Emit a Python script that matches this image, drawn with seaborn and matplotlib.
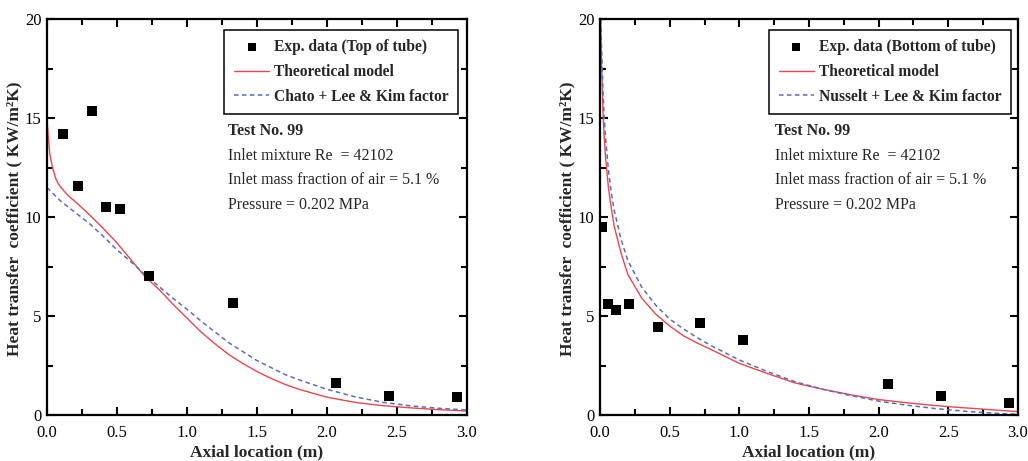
import numpy as np
import pandas as pd
import matplotlib
matplotlib.use("Agg")
import matplotlib.pyplot as plt
import seaborn as sns

# ---- Top of tube (left panel) ----
top_exp_x = [0.116, 0.219, 0.321, 0.421, 0.524, 0.726, 1.331, 2.064, 2.443, 2.926]
top_exp_y = [14.2, 11.6, 15.35, 10.5, 10.4, 7.05, 5.65, 1.6, 0.98, 0.92]

top_model_x = [0.0, 0.01, 0.02, 0.04, 0.06, 0.08, 0.10, 0.15, 0.20, 0.30, 0.40, 0.50,
               0.60, 0.70, 0.80, 0.90, 1.00, 1.10, 1.20, 1.30, 1.40, 1.50, 1.60, 1.70,
               1.80, 2.00, 2.20, 2.40, 2.60, 2.80, 3.00]
top_model_y = [15.0, 14.0, 13.2, 12.5, 12.0, 11.7, 11.5, 11.1, 10.8, 10.15, 9.45, 8.7,
               7.85, 7.0, 6.35, 5.6, 4.9, 4.2, 3.6, 3.05, 2.6, 2.2, 1.85, 1.55,
               1.3, 0.9, 0.64, 0.47, 0.36, 0.27, 0.2]

top_chato_x = [0.0, 0.10, 0.20, 0.30, 0.40, 0.50, 0.60, 0.70, 0.80, 0.90, 1.00, 1.10,
               1.20, 1.30, 1.40, 1.50, 1.60, 1.70, 1.80, 2.00, 2.20, 2.40, 2.60, 2.80, 3.00]
top_chato_y = [11.5, 10.8, 10.25, 9.7, 9.05, 8.35, 7.75, 7.1, 6.5, 5.9, 5.35, 4.75,
               4.2, 3.65, 3.2, 2.75, 2.4, 2.05, 1.78, 1.3, 0.92, 0.64, 0.46, 0.34, 0.25]

# ---- Bottom of tube (right panel) ----
bot_exp_x = [0.012, 0.06, 0.112, 0.21, 0.416, 0.72, 1.024, 2.067, 2.45, 2.934]
bot_exp_y = [9.52, 5.61, 5.31, 5.61, 4.47, 4.64, 3.79, 1.55, 0.98, 0.59]

bot_model_x = [0.005, 0.01, 0.02, 0.03, 0.04, 0.06, 0.08, 0.10, 0.15, 0.20, 0.30, 0.40,
               0.50, 0.60, 0.70, 0.80, 1.00, 1.20, 1.40, 1.60, 1.80, 2.00, 2.20, 2.40,
               2.60, 2.80, 3.00]
bot_model_y = [20.0, 18.0, 15.5, 14.0, 13.0, 11.5, 10.5, 9.6, 8.2, 7.1, 5.9, 5.1,
               4.5, 4.0, 3.63, 3.3, 2.61, 2.1, 1.62, 1.3, 1.02, 0.78, 0.62, 0.48,
               0.37, 0.27, 0.17]

bot_nusselt_x = [0.005, 0.01, 0.02, 0.03, 0.04, 0.06, 0.08, 0.10, 0.15, 0.20, 0.30, 0.40,
                 0.50, 0.60, 0.70, 0.80, 1.00, 1.20, 1.40, 1.60, 1.80, 2.00, 2.20, 2.40,
                 2.60, 2.80, 3.00]
bot_nusselt_y = [20.0, 18.8, 16.6, 15.0, 14.0, 12.4, 11.3, 10.4, 8.9, 7.8, 6.45, 5.55,
                 4.85, 4.35, 3.9, 3.5, 2.78, 2.2, 1.68, 1.3, 0.98, 0.7, 0.5, 0.33,
                 0.2, 0.1, 0.04]

info_lines = ["Inlet mixture Re  = 42102",
              "Inlet mass fraction of air = 5.1 %",
              "Pressure = 0.202 MPa"]

sns.set_theme(style="ticks")
plt.rcParams["font.family"] = ["Liberation Serif", "DejaVu Serif"]
plt.rcParams["axes.linewidth"] = 1.6

RED = "#e8474c"
BLUE = "#5b6cc0"

fig = plt.figure(figsize=(10.28, 4.61), dpi=100)
ax_l = fig.add_axes([0.0457, 0.0998, 0.4085, 0.858])
ax_r = fig.add_axes([0.5837, 0.0998, 0.4065, 0.858])

panels = [
    (ax_l, top_exp_x, top_exp_y, top_model_x, top_model_y, top_chato_x, top_chato_y,
     "Exp. data (Top of tube)", "Chato + Lee & Kim factor", 0.979, 0.431, -0.077),
    (ax_r, bot_exp_x, bot_exp_y, bot_model_x, bot_model_y, bot_nusselt_x, bot_nusselt_y,
     "Exp. data (Bottom of tube)", "Nusselt + Lee & Kim factor", 0.983, 0.419, -0.079),
]

for (ax, ex, ey, mx, my, cx, cy, exp_lbl, corr_lbl,
     leg_right, note_x, ylab_x) in panels:
    model = pd.DataFrame({"x": mx, "y": my})
    corr = pd.DataFrame({"x": cx, "y": cy})
    exp = pd.DataFrame({"x": ex, "y": ey})

    sns.lineplot(data=model, x="x", y="y", ax=ax, color=RED, lw=1.0,
                 sort=False, estimator=None, label="Theoretical model")
    sns.lineplot(data=corr, x="x", y="y", ax=ax, color=BLUE, lw=1.1,
                 sort=False, estimator=None, label=corr_lbl)
    ax.lines[-1].set_linestyle((0, (3, 2.2)))
    sns.scatterplot(data=exp, x="x", y="y", ax=ax, marker="s", s=44, color="black",
                    edgecolor="black", linewidth=0, label=exp_lbl, zorder=5)

    ax.set_xlim(0, 3.0)
    ax.set_ylim(0, 20)
    ax.set_xticks(np.arange(0, 3.01, 0.5))
    ax.set_xticks(np.arange(0.25, 3.0, 0.5), minor=True)
    ax.set_yticks(np.arange(0, 20.1, 5))
    ax.set_yticks(np.arange(2.5, 20, 5), minor=True)
    ax.set_xticklabels([f"{v:.1f}" for v in np.arange(0, 3.01, 0.5)])
    ax.set_yticklabels([f"{int(v)}" for v in np.arange(0, 20.1, 5)])
    ax.tick_params(which="both", direction="in", top=True, right=True,
                   labelsize=12, width=1.5, colors="black")
    ax.tick_params(which="major", length=6)
    ax.tick_params(which="minor", length=4)
    ax.tick_params(axis="x", which="major", pad=7)
    ax.tick_params(axis="y", which="major", pad=4)
    for sp in ax.spines.values():
        sp.set_color("black")
        sp.set_linewidth(1.6)

    ax.set_xlabel("Axial location (m)", fontsize=12.5, fontweight="bold")
    ax.xaxis.set_label_coords(0.5, -0.094)
    ax.xaxis.label.set_va("center")
    ax.set_ylabel("Heat transfer  coefficient ( KW/m²K)", fontsize=12.5,
                  fontweight="bold")
    ax.yaxis.set_label_coords(ylab_x, 0.497)
    ax.yaxis.label.set_va("center")

    handles, labels = ax.get_legend_handles_labels()
    order = [labels.index(exp_lbl), labels.index("Theoretical model"), labels.index(corr_lbl)]
    leg = ax.legend([handles[i] for i in order], [labels[i] for i in order],
                    loc="upper right", bbox_to_anchor=(leg_right, 0.973),
                    borderaxespad=0.0,
                    fancybox=False, framealpha=1, edgecolor="black",
                    prop={"weight": "bold", "size": 11.2}, handlelength=2.3,
                    handletextpad=0.3, borderpad=0.6, labelspacing=0.55,
                    markerscale=0.85)
    leg.get_frame().set_linewidth(1.1)

    # test-condition notes under the legend
    ax.text(note_x, 0.717, "Test No. 99", transform=ax.transAxes,
            fontsize=11.5, fontweight="bold", va="center", ha="left")
    for k, line in enumerate(info_lines):
        ax.text(note_x, 0.655 - k * 0.0615, line,
                transform=ax.transAxes, fontsize=11.5, va="center", ha="left")

fig.savefig("out.png", dpi=100)
